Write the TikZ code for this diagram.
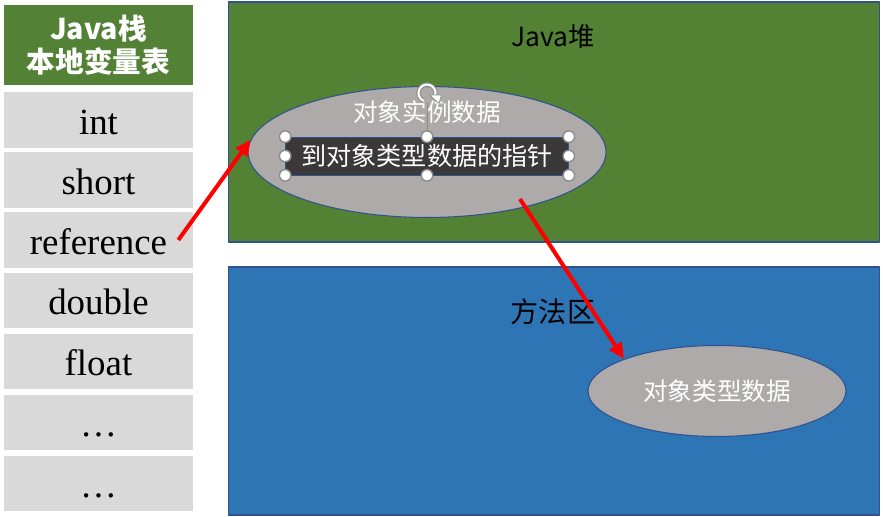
\documentclass[tikz,border=0pt]{standalone}
\usepackage{fontspec}
\setmainfont{Liberation Serif}
\newfontfamily\cjk{Noto Sans CJK SC}
\usetikzlibrary{shapes.geometric,arrows.meta}
\definecolor{headgreen}{HTML}{538135}
\definecolor{heapgreen}{HTML}{548235}
\definecolor{areablue}{HTML}{2E75B6}
\definecolor{edgeblue}{HTML}{2F528F}
\definecolor{cellgray}{HTML}{D9D9D9}
\definecolor{blobgray}{HTML}{AEAAAA}
\definecolor{boxdark}{HTML}{3A3838}
\definecolor{gripgray}{HTML}{8C8C8C}

\begin{document}
\begin{tikzpicture}[x=0.02cm, y=-0.02cm, line cap=round, line join=round,
    head/.style={fill=headgreen, minimum width=3.78cm, minimum height=1.6cm, inner sep=0pt,
      text=white, align=center, font=\cjk\bfseries\fontsize{16.3}{18.5}\selectfont},
    cell/.style={fill=cellgray, minimum width=3.78cm, minimum height=1.12cm, inner sep=0pt,
      text height=17pt, text depth=1pt, font=\fontsize{21}{24}\selectfont},
    area/.style={draw=edgeblue, line width=0.6pt, minimum width=13.04cm, inner sep=0pt},
    blob/.style={ellipse, draw=edgeblue, line width=0.6pt, fill=blobgray, inner sep=0pt},
    lab/.style={inner sep=1pt, text=white, font=\cjk\fontsize{14}{16}\selectfont},
    grip/.style={circle, draw=gripgray, fill=white, line width=0.8pt, minimum size=0.23cm, inner sep=0pt},
    ptr/.style={draw=red, line width=2.3pt, line cap=butt, -{Triangle[length=9pt,width=8pt]}}]
  \useasboundingbox (0,0) rectangle (883,517);
  \node[head] (stack) at (98.5,45) {Java栈\\本地变量表};
  \node[cell] (int) at (98.5,120) {int};
  \node[cell] (short) at (98.5,180) {short};
  \node[cell] (reference) at (98.5,240) {reference};
  \node[cell] (double) at (98.5,300.5) {double};
  \node[cell] (float) at (98.5,361.5) {float};
  \node[cell] (more1) at (98.5,422.5) {…};
  \node[cell] (more2) at (98.5,483.5) {…};
  \node[area, fill=heapgreen, minimum height=4.8cm] (heap) at (554,122) {};
  \node[area, fill=areablue, minimum height=4.96cm] (method) at (554,391) {};
  \node[inner sep=1pt, font=\cjk\fontsize{15}{17}\selectfont] (heaplab) at (553,37) {Java堆};
  \node[inner sep=1pt, font=\cjk\fontsize{16}{18}\selectfont] (methodlab) at (553,312) {方法区};
  \node[blob, minimum width=7.16cm, minimum height=2.62cm] (inst) at (427,152) {};
  \node[lab] (instlab) at (427,112) {对象实例数据};
  \node[fill=boxdark, draw=edgeblue, line width=0.4pt, minimum width=5.66cm, minimum height=0.76cm,
    inner sep=0pt, text=white, font=\cjk\fontsize{14.3}{16}\selectfont] (ptrbox) at (427,156) {到对象类型数据的指针};
  \node[inner sep=0pt, minimum size=0.38cm] (rot) at (427,93) {};
  \draw[gripgray, line width=0.5pt] (rot.south) -- (ptrbox.north);
  \node[grip] (g1) at (ptrbox.north west) {};
  \node[grip] (g2) at (ptrbox.north) {};
  \node[grip] (g3) at (ptrbox.north east) {};
  \node[grip] (g4) at (ptrbox.west) {};
  \node[grip] (g5) at (ptrbox.east) {};
  \node[grip] (g6) at (ptrbox.south west) {};
  \node[grip] (g7) at (ptrbox.south) {};
  \node[grip] (g8) at (ptrbox.south east) {};
  \draw[gripgray, line width=2.4pt, line cap=butt] ([shift={(-20:0.17cm)}]rot.center) arc[start angle=-20, end angle=250, radius=0.17cm];
  \draw[white, line width=1.2pt, line cap=butt] ([shift={(-20:0.17cm)}]rot.center) arc[start angle=-20, end angle=250, radius=0.17cm];
  \fill[white, draw=gripgray, line width=0.4pt] ([shift={(-20:0.17cm)}]rot.center) ++(-0.11cm,0.02cm) -- ++(0.24cm,0) -- ++(-0.05cm,-0.17cm) -- cycle;
  \node[blob, minimum width=5.16cm, minimum height=1.82cm, text=white, font=\cjk\fontsize{14}{16}\selectfont] (cls) at (717,391) {对象类型数据};
  \coordinate (tail) at (520,199);
  \draw[ptr] ([xshift=-0.3cm]reference.east) -- (inst.176);
  \draw[ptr] (tail) -- (cls.161);
\end{tikzpicture}
\end{document}
